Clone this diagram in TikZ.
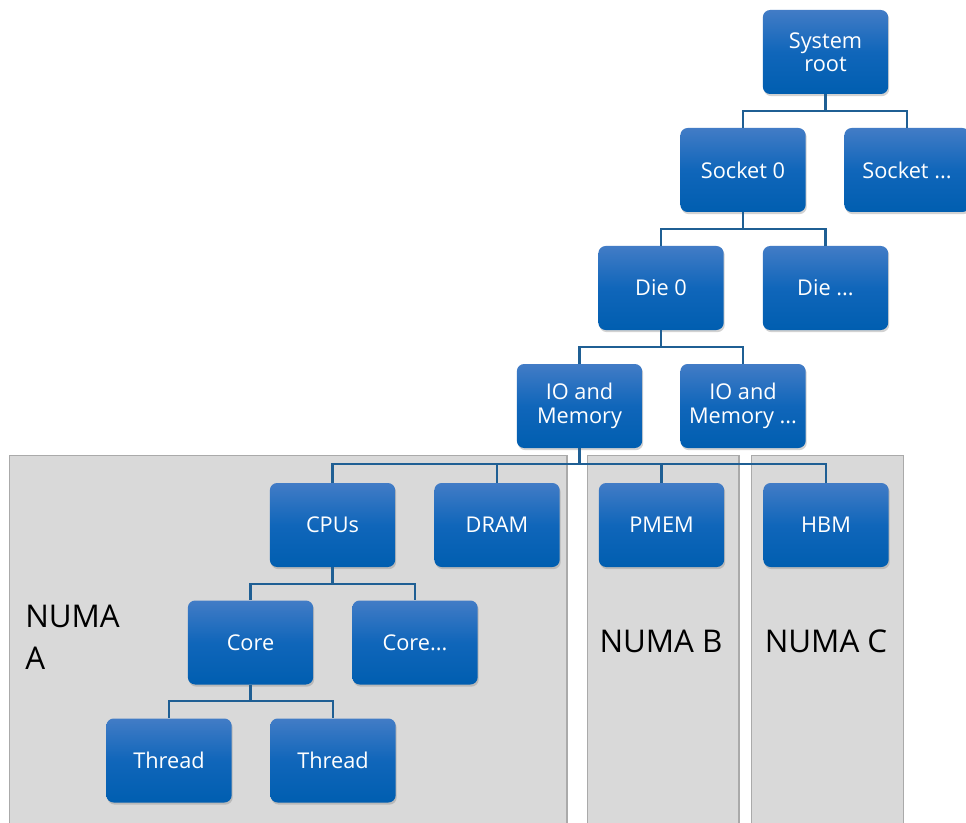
\documentclass[tikz,border=0pt]{standalone}
\usepackage{fontspec}
\setmainfont{Open Sans}
\usetikzlibrary{shadows}
\definecolor{boxtop}{RGB}{66,124,198}
\definecolor{boxmid}{RGB}{16,102,186}
\definecolor{boxbot}{RGB}{0,94,176}
\definecolor{linkc}{RGB}{31,95,148}
\definecolor{panelfill}{RGB}{217,217,217}
\definecolor{paneledge}{RGB}{170,170,170}
\tikzset{
  hbox/.style={rounded corners=5.5pt, minimum width=94pt, minimum height=63pt,
    top color=boxtop, bottom color=boxbot, middle color=boxmid,
    text=white, font=\fontsize{16.3}{17.5}\selectfont, align=center, inner sep=0pt,
    drop shadow={opacity=0.35, shadow xshift=0.8pt, shadow yshift=-1.6pt}},
  link/.style={draw=linkc, line width=1.7pt},
  panel/.style={fill=panelfill, draw=paneledge, line width=0.8pt},
  numa/.style={font=\fontsize{23.5}{31.5}\selectfont, text=black, align=left, inner sep=0pt}
}
\begin{document}
\begin{tikzpicture}[x=0.75pt,y=-0.75pt]
\useasboundingbox (0,0) rectangle (966,823);
\clip (0,0) rectangle (966,823);
\fill[white] (0,0) rectangle (966,823);
% panels
\path[panel] (9.5,830) -- (9.5,455.5) -- (567,455.5) -- (567,830);
\path[panel] (587.5,830) -- (587.5,455.5) -- (739,455.5) -- (739,830);
\path[panel] (751.5,830) -- (751.5,455.5) -- (903.5,455.5) -- (903.5,830);
\node[numa, anchor=north west] (numaA) at (25,605) {NUMA\\A};
\node[numa] (numaB) at (661,641) {NUMA B};
\node[numa] (numaC) at (826,641) {NUMA C};
% boxes
\node[hbox] (root) at (825.5,52) {System\\root};
\node[hbox] (s0) at (743,170) {Socket 0};
\node[hbox] (sx) at (907,170) {Socket ...};
\node[hbox] (d0) at (661,288) {Die 0};
\node[hbox] (dx) at (825.5,288) {Die ...};
\node[hbox] (io0) at (579.5,406) {IO and\\Memory};
\node[hbox] (iox) at (743,406) {IO and\\Memory ...};
\node[hbox] (cpus) at (332.5,525) {CPUs};
\node[hbox] (dram) at (497,525) {DRAM};
\node[hbox] (pmem) at (661.5,525) {PMEM};
\node[hbox] (hbm) at (826,525) {HBM};
\node[hbox] (core) at (250.5,642.5) {Core};
\node[hbox] (corex) at (415,642.5) {Core...};
\node[hbox] (t1) at (169,760.5) {Thread};
\node[hbox] (t2) at (333,760.5) {Thread};
% connectors
\draw[link] (root.south) -- ++(0,17) -| (s0.north);
\draw[link] (root.south) -- ++(0,17) -| (sx.north);
\draw[link] (s0.south) -- ++(0,17) -| (d0.north);
\draw[link] (s0.south) -- ++(0,17) -| (dx.north);
\draw[link] (d0.south) -- ++(0,17) -| (io0.north);
\draw[link] (d0.south) -- ++(0,17) -| (iox.north);
\draw[link] (io0.south) -- ++(0,15.5) -| (cpus.north);
\draw[link] (io0.south) -- ++(0,15.5) -| (dram.north);
\draw[link] (io0.south) -- ++(0,15.5) -| (pmem.north);
\draw[link] (io0.south) -- ++(0,15.5) -| (hbm.north);
\draw[link] (cpus.south) -- ++(0,16.5) -| (core.north);
\draw[link] (cpus.south) -- ++(0,16.5) -| (corex.north);
\draw[link] (core.south) -- ++(0,16.5) -| (t1.north);
\draw[link] (core.south) -- ++(0,16.5) -| (t2.north);
\end{tikzpicture}
\end{document}
